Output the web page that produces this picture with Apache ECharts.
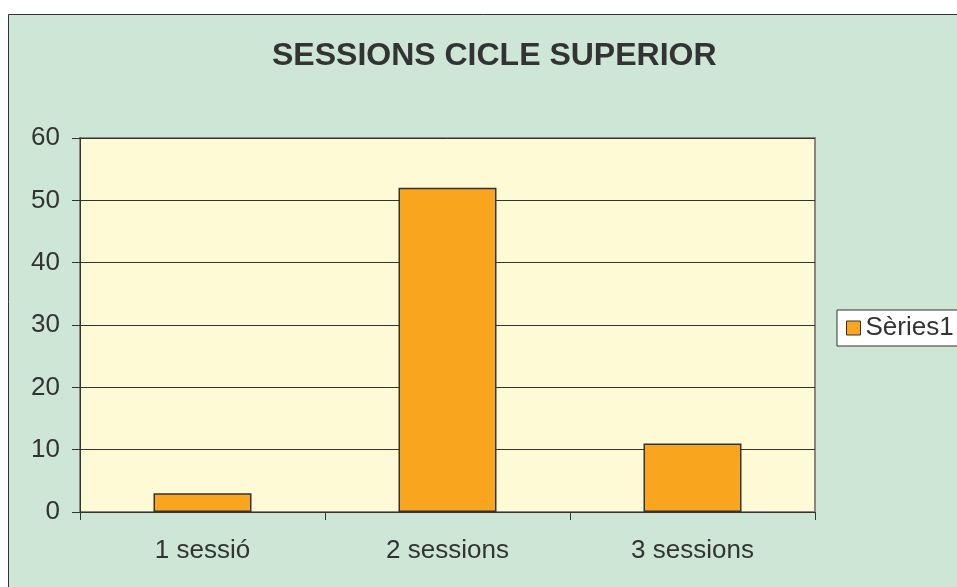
<!DOCTYPE html>
<html>
<head>
<meta charset="utf-8">
<script src="https://cdn.jsdelivr.net/npm/echarts@6/dist/echarts.min.js"></script>
<style>
  html, body { margin: 0; padding: 0; background: #ffffff; }
  #main { width: 957px; height: 587px; }
</style>
</head>
<body>
<div id="main"></div>
<script>
var titleText = 'SESSIONS CICLE SUPERIOR';
var categories = ['1 sessió', '2 sessions', '3 sessions'];
var seriesName = 'Sèries1';
var values = [3, 52, 11];

var chart = echarts.init(document.getElementById('main'));
var option = {
  backgroundColor: '#ffffff',
  textStyle: { fontFamily: 'Liberation Sans, Arial, sans-serif' },
  graphic: [{
    type: 'rect',
    z: -10,
    silent: true,
    shape: { x: 8.5, y: 14.5, width: 1000, height: 1000 },
    style: { fill: '#cde6d6', stroke: '#333333', lineWidth: 1 }
  }],
  title: {
    text: titleText,
    left: 267,
    top: 35,
    textStyle: {
      color: '#333333',
      fontSize: 32,
      fontWeight: 'bold',
      fontFamily: 'Liberation Sans, Arial, sans-serif'
    }
  },
  legend: {
    data: [seriesName],
    left: 837,
    top: 310,
    orient: 'vertical',
    backgroundColor: '#ffffff',
    borderColor: '#333333',
    borderWidth: 1,
    padding: [5, 16, 5, 9],
    itemWidth: 14,
    itemHeight: 14,
    itemGap: 6,
    icon: 'rect',
    itemStyle: { borderColor: '#333333', borderWidth: 1 },
    textStyle: { color: '#333333', fontSize: 26 }
  },
  grid: {
    left: 80,
    right: 142,
    top: 138,
    bottom: 75,
    show: true,
    backgroundColor: '#fffad6',
    borderColor: '#8a8585',
    borderWidth: 2
  },
  xAxis: {
    type: 'category',
    data: categories,
    axisLine: { lineStyle: { color: '#333333', width: 1 } },
    axisTick: { show: true, length: 8, lineStyle: { color: '#333333' } },
    axisLabel: { color: '#333333', fontSize: 26, margin: 26 }
  },
  yAxis: {
    type: 'value',
    min: 0,
    max: 60,
    interval: 10,
    axisLine: { show: true, lineStyle: { color: '#333333', width: 1 } },
    axisTick: { show: true, length: 8, lineStyle: { color: '#333333' } },
    axisLabel: { color: '#333333', fontSize: 26, margin: 20 },
    splitLine: { lineStyle: { color: '#333333', width: 1 } }
  },
  series: [{
    name: seriesName,
    type: 'bar',
    data: values,
    barWidth: '40%',
    itemStyle: { color: '#f9a61e', borderColor: '#333333', borderWidth: 1.5 }
  }]
};
chart.setOption(option);
</script>
</body>
</html>
